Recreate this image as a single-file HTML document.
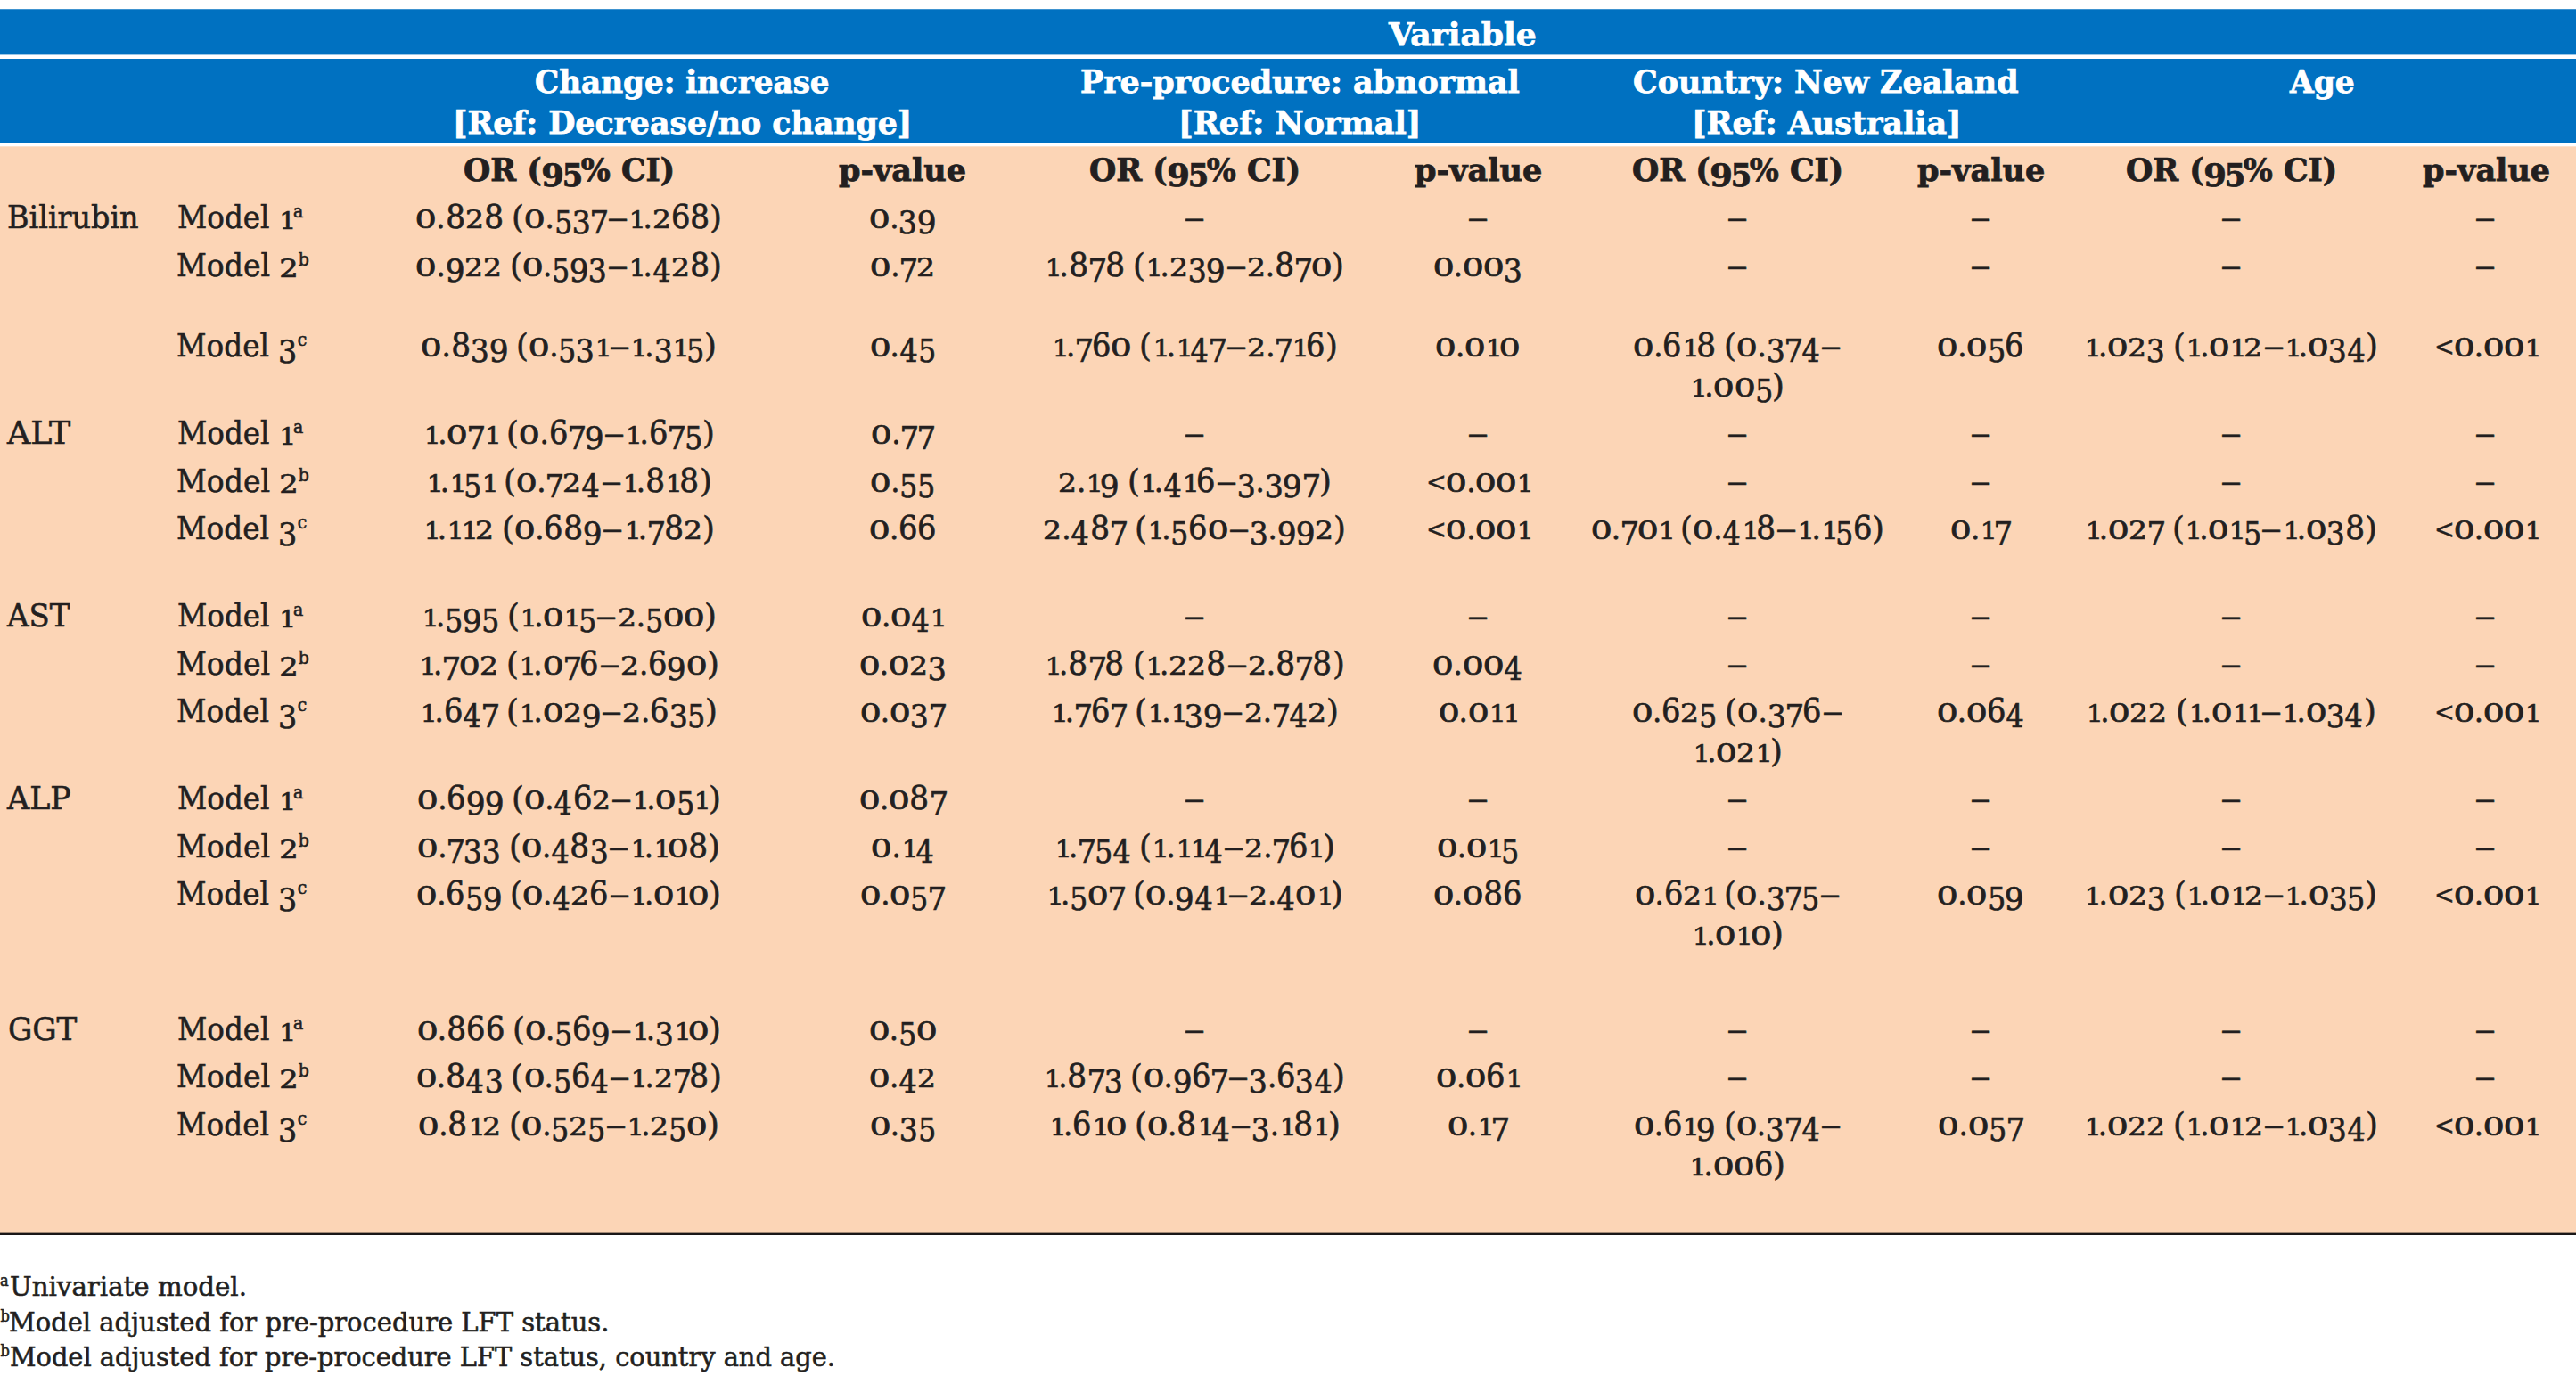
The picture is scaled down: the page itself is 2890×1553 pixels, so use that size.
<!DOCTYPE html>
<html lang="en"><head><meta charset="utf-8"><title>Table</title>
<style>
html,body{margin:0;padding:0;background:#fff;}
body{width:2890px;height:1553px;overflow:hidden;position:relative;font-family:"DejaVu Serif Condensed", "Liberation Serif", "DejaVu Serif", serif;color:#231f20;}
.band{position:absolute;left:0;width:2890px;}
.t{position:absolute;white-space:nowrap;line-height:1;margin:0;padding:0;font-weight:400;transform-origin:0 0;-webkit-text-stroke:0.55px currentColor;}
.b{font-weight:700;-webkit-text-stroke:0.75px currentColor;}
.n{transform:scaleX(1.46);transform-origin:50% 50%;}
.g{display:inline-block;position:relative;top:1px;text-align:center;letter-spacing:0;transform-origin:50% 31px;}
.g0{width:0.6413em;transform:scale(1.18,0.763);-webkit-text-stroke-width:0.8px;}
.g1{width:0.4481em;transform:scale(0.92,0.737);-webkit-text-stroke-width:0.8px;}
.g2{width:0.5838em;transform:scale(1.02,0.77);-webkit-text-stroke-width:0.8px;}
.g3{width:0.5765em;transform:translateY(0.178em) scaleX(1.02);-webkit-text-stroke-width:0.65px;}
.g4{width:0.5901em;transform:translateY(0.178em) scaleX(0.98);-webkit-text-stroke-width:0.65px;}
.g5{width:0.5515em;transform:translateY(0.178em) scaleX(0.97);-webkit-text-stroke-width:0.65px;}
.g6{width:0.5912em;transform:scale(1.04,1.01);-webkit-text-stroke-width:0.65px;}
.g7{width:0.5243em;transform:translateY(0.178em) scaleX(1.05);-webkit-text-stroke-width:0.65px;}
.g8{width:0.6225em;transform:scale(1.06,1.01);-webkit-text-stroke-width:0.65px;}
.g9{width:0.5912em;transform:translateY(0.178em) scaleX(1.06);-webkit-text-stroke-width:0.65px;}
.b .g3{transform:translateY(0.145em) scaleX(1.02);-webkit-text-stroke-width:0.75px;}
.b .g4{transform:translateY(0.145em) scaleX(0.98);-webkit-text-stroke-width:0.75px;}
.b .g5{transform:translateY(0.145em) scaleX(0.97);-webkit-text-stroke-width:0.75px;}
.b .g7{transform:translateY(0.145em) scaleX(1.05);-webkit-text-stroke-width:0.75px;}
.b .g9{transform:translateY(0.145em) scaleX(1.06);-webkit-text-stroke-width:0.75px;}
.gp{width:0.2820em;}
.gl,.gr{width:0.3917em;transform:scaleX(1.1);}
.gt{width:0.6716em;transform:scale(0.84);transform-origin:50% 62%;}
.ge{width:0.6716em;transform:scaleX(1.46);}
.q{word-spacing:-0.0345em;}
</style></head><body>
<div class="band" style="top:10.2px;height:51.2px;background:#0071c1"></div>
<div class="band" style="top:66.1px;height:93.8px;background:#0071c1"></div>
<div class="band" style="top:164.3px;height:1219.4px;background:#fcd5b6"></div>
<div class="band" style="top:1383.6px;height:2.4px;background:#1a1617"></div>
<div class="band" style="top:10px;height:1px;background:#4094d0"></div>
<div class="band" style="top:61px;height:1px;background:#99c6e6"></div>
<div class="band" style="top:164px;height:1px;background:#fde2cc"></div>
<div class="band" style="top:1383px;height:1px;background:#a28976"></div>

<span class="t b" style="left:1558.18px;top:20px;font-size:36px;color:#ffffff;transform:scaleX(1.1144);">Variable</span>
<span class="t b" style="left:600.43px;top:73px;font-size:36px;color:#ffffff;transform:scaleX(1.0548);">Change: increase</span>
<span class="t b" style="left:508.26px;top:119px;font-size:36px;color:#ffffff;transform:scaleX(1.0722);">[Ref: Decrease/no change]</span>
<span class="t b" style="left:1212.02px;top:73px;font-size:36px;color:#ffffff;transform:scaleX(1.0769);">Pre-procedure: abnormal</span>
<span class="t b" style="left:1321.58px;top:119px;font-size:36px;color:#ffffff;transform:scaleX(1.0847);">[Ref: Normal]</span>
<span class="t b" style="left:1832.31px;top:73px;font-size:36px;color:#ffffff;transform:scaleX(1.0741);">Country: New Zealand</span>
<span class="t b" style="left:1897.67px;top:119px;font-size:36px;color:#ffffff;transform:scaleX(1.0773);">[Ref: Australia]</span>
<span class="t b" style="left:2569.39px;top:73px;font-size:36px;color:#ffffff;transform:scaleX(1.0648);">Age</span>
<span class="t b" style="left:520.35px;top:172px;font-size:36px;transform:scaleX(1.0728);">OR (<span class="g g9">9</span><span class="g g5">5</span>% CI)</span>
<span class="t b" style="left:1222.35px;top:172px;font-size:36px;transform:scaleX(1.0728);">OR (<span class="g g9">9</span><span class="g g5">5</span>% CI)</span>
<span class="t b" style="left:1831.35px;top:172px;font-size:36px;transform:scaleX(1.0728);">OR (<span class="g g9">9</span><span class="g g5">5</span>% CI)</span>
<span class="t b" style="left:2385.08px;top:172px;font-size:36px;transform:scaleX(1.0729);">OR (<span class="g g9">9</span><span class="g g5">5</span>% CI)</span>
<span class="t b" style="left:941.49px;top:172px;font-size:36px;transform:scaleX(1.0811);">p-value</span>
<span class="t b" style="left:1586.54px;top:172px;font-size:36px;transform:scaleX(1.0822);">p-value</span>
<span class="t b" style="left:2151.02px;top:172px;font-size:36px;transform:scaleX(1.0822);">p-value</span>
<span class="t b" style="left:2717.66px;top:172px;font-size:36px;transform:scaleX(1.0814);">p-value</span>
<span class="t" style="left:8.46px;top:226px;font-size:36px;transform:scaleX(1.0310);">Bilirubin</span>
<span class="t" style="left:8.22px;top:468px;font-size:36px;transform:scaleX(1.1201);">ALT</span>
<span class="t" style="left:8.11px;top:673px;font-size:36px;transform:scaleX(1.0461);">AST</span>
<span class="t" style="left:8.14px;top:878px;font-size:36px;transform:scaleX(1.0749);">ALP</span>
<span class="t" style="left:8.57px;top:1137px;font-size:36px;transform:scaleX(1.0553);">GGT</span>
<span class="t" style="left:198.51px;top:226px;font-size:36px;transform:scaleX(1.0044);">Model <span class="g g1">1</span></span>
<span class="t" style="left:328.91px;top:227px;font-size:21px;">a</span>
<span class="t" style="left:198.46px;top:280px;font-size:36px;transform:scaleX(1.0203);">Model <span class="g g2">2</span></span>
<span class="t" style="left:334.84px;top:281px;font-size:21px;">b</span>
<span class="t" style="left:198.49px;top:370px;font-size:36px;transform:scaleX(1.0102);">Model <span class="g g3">3</span></span>
<span class="t" style="left:333.84px;top:371px;font-size:21px;">c</span>
<span class="t" style="left:198.51px;top:468px;font-size:36px;transform:scaleX(1.0044);">Model <span class="g g1">1</span></span>
<span class="t" style="left:328.91px;top:469px;font-size:21px;">a</span>
<span class="t" style="left:198.46px;top:522px;font-size:36px;transform:scaleX(1.0203);">Model <span class="g g2">2</span></span>
<span class="t" style="left:334.84px;top:523px;font-size:21px;">b</span>
<span class="t" style="left:198.49px;top:575px;font-size:36px;transform:scaleX(1.0102);">Model <span class="g g3">3</span></span>
<span class="t" style="left:333.84px;top:576px;font-size:21px;">c</span>
<span class="t" style="left:198.51px;top:673px;font-size:36px;transform:scaleX(1.0044);">Model <span class="g g1">1</span></span>
<span class="t" style="left:328.91px;top:674px;font-size:21px;">a</span>
<span class="t" style="left:198.46px;top:727px;font-size:36px;transform:scaleX(1.0203);">Model <span class="g g2">2</span></span>
<span class="t" style="left:334.84px;top:728px;font-size:21px;">b</span>
<span class="t" style="left:198.49px;top:780px;font-size:36px;transform:scaleX(1.0102);">Model <span class="g g3">3</span></span>
<span class="t" style="left:333.84px;top:781px;font-size:21px;">c</span>
<span class="t" style="left:198.51px;top:878px;font-size:36px;transform:scaleX(1.0044);">Model <span class="g g1">1</span></span>
<span class="t" style="left:328.91px;top:879px;font-size:21px;">a</span>
<span class="t" style="left:198.46px;top:932px;font-size:36px;transform:scaleX(1.0203);">Model <span class="g g2">2</span></span>
<span class="t" style="left:334.84px;top:933px;font-size:21px;">b</span>
<span class="t" style="left:198.49px;top:985px;font-size:36px;transform:scaleX(1.0102);">Model <span class="g g3">3</span></span>
<span class="t" style="left:333.84px;top:986px;font-size:21px;">c</span>
<span class="t" style="left:198.51px;top:1137px;font-size:36px;transform:scaleX(1.0044);">Model <span class="g g1">1</span></span>
<span class="t" style="left:328.91px;top:1138px;font-size:21px;">a</span>
<span class="t" style="left:198.46px;top:1190px;font-size:36px;transform:scaleX(1.0203);">Model <span class="g g2">2</span></span>
<span class="t" style="left:334.84px;top:1191px;font-size:21px;">b</span>
<span class="t" style="left:198.49px;top:1244px;font-size:36px;transform:scaleX(1.0102);">Model <span class="g g3">3</span></span>
<span class="t" style="left:333.84px;top:1245px;font-size:21px;">c</span>
<span class="t q" style="left:466.29px;top:225px;font-size:36px;"><span class="g g0">0</span><span class="g gp">.</span><span class="g g8">8</span><span class="g g2">2</span><span class="g g8">8</span> <span class="g gl">(</span><span class="g g0">0</span><span class="g gp">.</span><span class="g g5">5</span><span class="g g3">3</span><span class="g g7">7</span><span class="g ge">–</span><span class="g g1">1</span><span class="g gp">.</span><span class="g g2">2</span><span class="g g6">6</span><span class="g g8">8</span><span class="g gr">)</span></span>
<span class="t q" style="left:975.06px;top:225px;font-size:36px;"><span class="g g0">0</span><span class="g gp">.</span><span class="g g3">3</span><span class="g g9">9</span></span>
<span class="t n" style="left:1332.15px;top:226px;font-size:36px;">–</span>
<span class="t n" style="left:1649.75px;top:226px;font-size:36px;">–</span>
<span class="t n" style="left:1941.15px;top:226px;font-size:36px;">–</span>
<span class="t n" style="left:2213.55px;top:226px;font-size:36px;">–</span>
<span class="t n" style="left:2494.55px;top:226px;font-size:36px;">–</span>
<span class="t n" style="left:2780.35px;top:226px;font-size:36px;">–</span>
<span class="t q" style="left:466.36px;top:279px;font-size:36px;"><span class="g g0">0</span><span class="g gp">.</span><span class="g g9">9</span><span class="g g2">2</span><span class="g g2">2</span> <span class="g gl">(</span><span class="g g0">0</span><span class="g gp">.</span><span class="g g5">5</span><span class="g g9">9</span><span class="g g3">3</span><span class="g ge">–</span><span class="g g1">1</span><span class="g gp">.</span><span class="g g4">4</span><span class="g g2">2</span><span class="g g8">8</span><span class="g gr">)</span></span>
<span class="t q" style="left:976.13px;top:279px;font-size:36px;"><span class="g g0">0</span><span class="g gp">.</span><span class="g g7">7</span><span class="g g2">2</span></span>
<span class="t q" style="left:1172.25px;top:279px;font-size:36px;"><span class="g g1">1</span><span class="g gp">.</span><span class="g g8">8</span><span class="g g7">7</span><span class="g g8">8</span> <span class="g gl">(</span><span class="g g1">1</span><span class="g gp">.</span><span class="g g2">2</span><span class="g g3">3</span><span class="g g9">9</span><span class="g ge">–</span><span class="g g2">2</span><span class="g gp">.</span><span class="g g8">8</span><span class="g g7">7</span><span class="g g0">0</span><span class="g gr">)</span></span>
<span class="t q" style="left:1607.72px;top:279px;font-size:36px;"><span class="g g0">0</span><span class="g gp">.</span><span class="g g0">0</span><span class="g g0">0</span><span class="g g3">3</span></span>
<span class="t n" style="left:1941.15px;top:280px;font-size:36px;">–</span>
<span class="t n" style="left:2213.55px;top:280px;font-size:36px;">–</span>
<span class="t n" style="left:2494.55px;top:280px;font-size:36px;">–</span>
<span class="t n" style="left:2780.35px;top:280px;font-size:36px;">–</span>
<span class="t q" style="left:472.34px;top:369px;font-size:36px;"><span class="g g0">0</span><span class="g gp">.</span><span class="g g8">8</span><span class="g g3">3</span><span class="g g9">9</span> <span class="g gl">(</span><span class="g g0">0</span><span class="g gp">.</span><span class="g g5">5</span><span class="g g3">3</span><span class="g g1">1</span><span class="g ge">–</span><span class="g g1">1</span><span class="g gp">.</span><span class="g g3">3</span><span class="g g1">1</span><span class="g g5">5</span><span class="g gr">)</span></span>
<span class="t q" style="left:975.53px;top:369px;font-size:36px;"><span class="g g0">0</span><span class="g gp">.</span><span class="g g4">4</span><span class="g g5">5</span></span>
<span class="t q" style="left:1179.92px;top:369px;font-size:36px;"><span class="g g1">1</span><span class="g gp">.</span><span class="g g7">7</span><span class="g g6">6</span><span class="g g0">0</span> <span class="g gl">(</span><span class="g g1">1</span><span class="g gp">.</span><span class="g g1">1</span><span class="g g4">4</span><span class="g g7">7</span><span class="g ge">–</span><span class="g g2">2</span><span class="g gp">.</span><span class="g g7">7</span><span class="g g1">1</span><span class="g g6">6</span><span class="g gr">)</span></span>
<span class="t q" style="left:1610.03px;top:369px;font-size:36px;"><span class="g g0">0</span><span class="g gp">.</span><span class="g g0">0</span><span class="g g1">1</span><span class="g g0">0</span></span>
<span class="t q" style="left:1832.14px;top:369px;font-size:36px;"><span class="g g0">0</span><span class="g gp">.</span><span class="g g6">6</span><span class="g g1">1</span><span class="g g8">8</span> <span class="g gl">(</span><span class="g g0">0</span><span class="g gp">.</span><span class="g g3">3</span><span class="g g7">7</span><span class="g g4">4</span><span class="g ge">–</span></span>
<span class="t q" style="left:1896.20px;top:414px;font-size:36px;"><span class="g g1">1</span><span class="g gp">.</span><span class="g g0">0</span><span class="g g0">0</span><span class="g g5">5</span><span class="g gr">)</span></span>
<span class="t q" style="left:2173.27px;top:369px;font-size:36px;"><span class="g g0">0</span><span class="g gp">.</span><span class="g g0">0</span><span class="g g5">5</span><span class="g g6">6</span></span>
<span class="t q" style="left:2337.77px;top:369px;font-size:36px;"><span class="g g1">1</span><span class="g gp">.</span><span class="g g0">0</span><span class="g g2">2</span><span class="g g3">3</span> <span class="g gl">(</span><span class="g g1">1</span><span class="g gp">.</span><span class="g g0">0</span><span class="g g1">1</span><span class="g g2">2</span><span class="g ge">–</span><span class="g g1">1</span><span class="g gp">.</span><span class="g g0">0</span><span class="g g3">3</span><span class="g g4">4</span><span class="g gr">)</span></span>
<span class="t q" style="left:2728.59px;top:369px;font-size:36px;"><span class="g gt">&lt;</span><span class="g g0">0</span><span class="g gp">.</span><span class="g g0">0</span><span class="g g0">0</span><span class="g g1">1</span></span>
<span class="t q" style="left:475.01px;top:467px;font-size:36px;"><span class="g g1">1</span><span class="g gp">.</span><span class="g g0">0</span><span class="g g7">7</span><span class="g g1">1</span> <span class="g gl">(</span><span class="g g0">0</span><span class="g gp">.</span><span class="g g6">6</span><span class="g g7">7</span><span class="g g9">9</span><span class="g ge">–</span><span class="g g1">1</span><span class="g gp">.</span><span class="g g6">6</span><span class="g g7">7</span><span class="g g5">5</span><span class="g gr">)</span></span>
<span class="t q" style="left:977.21px;top:467px;font-size:36px;"><span class="g g0">0</span><span class="g gp">.</span><span class="g g7">7</span><span class="g g7">7</span></span>
<span class="t n" style="left:1332.15px;top:468px;font-size:36px;">–</span>
<span class="t n" style="left:1649.75px;top:468px;font-size:36px;">–</span>
<span class="t n" style="left:1941.15px;top:468px;font-size:36px;">–</span>
<span class="t n" style="left:2213.55px;top:468px;font-size:36px;">–</span>
<span class="t n" style="left:2494.55px;top:468px;font-size:36px;">–</span>
<span class="t n" style="left:2780.35px;top:468px;font-size:36px;">–</span>
<span class="t q" style="left:477.68px;top:521px;font-size:36px;"><span class="g g1">1</span><span class="g gp">.</span><span class="g g1">1</span><span class="g g5">5</span><span class="g g1">1</span> <span class="g gl">(</span><span class="g g0">0</span><span class="g gp">.</span><span class="g g7">7</span><span class="g g2">2</span><span class="g g4">4</span><span class="g ge">–</span><span class="g g1">1</span><span class="g gp">.</span><span class="g g8">8</span><span class="g g1">1</span><span class="g g8">8</span><span class="g gr">)</span></span>
<span class="t q" style="left:976.23px;top:521px;font-size:36px;"><span class="g g0">0</span><span class="g gp">.</span><span class="g g5">5</span><span class="g g5">5</span></span>
<span class="t q" style="left:1187.01px;top:521px;font-size:36px;"><span class="g g2">2</span><span class="g gp">.</span><span class="g g1">1</span><span class="g g9">9</span> <span class="g gl">(</span><span class="g g1">1</span><span class="g gp">.</span><span class="g g4">4</span><span class="g g1">1</span><span class="g g6">6</span><span class="g ge">–</span><span class="g g3">3</span><span class="g gp">.</span><span class="g g3">3</span><span class="g g9">9</span><span class="g g7">7</span><span class="g gr">)</span></span>
<span class="t q" style="left:1597.94px;top:521px;font-size:36px;"><span class="g gt">&lt;</span><span class="g g0">0</span><span class="g gp">.</span><span class="g g0">0</span><span class="g g0">0</span><span class="g g1">1</span></span>
<span class="t n" style="left:1941.15px;top:522px;font-size:36px;">–</span>
<span class="t n" style="left:2213.55px;top:522px;font-size:36px;">–</span>
<span class="t n" style="left:2494.55px;top:522px;font-size:36px;">–</span>
<span class="t n" style="left:2780.35px;top:522px;font-size:36px;">–</span>
<span class="t q" style="left:474.50px;top:574px;font-size:36px;"><span class="g g1">1</span><span class="g gp">.</span><span class="g g1">1</span><span class="g g1">1</span><span class="g g2">2</span> <span class="g gl">(</span><span class="g g0">0</span><span class="g gp">.</span><span class="g g6">6</span><span class="g g8">8</span><span class="g g9">9</span><span class="g ge">–</span><span class="g g1">1</span><span class="g gp">.</span><span class="g g7">7</span><span class="g g8">8</span><span class="g g2">2</span><span class="g gr">)</span></span>
<span class="t q" style="left:974.80px;top:574px;font-size:36px;"><span class="g g0">0</span><span class="g gp">.</span><span class="g g6">6</span><span class="g g6">6</span></span>
<span class="t q" style="left:1170.34px;top:574px;font-size:36px;"><span class="g g2">2</span><span class="g gp">.</span><span class="g g4">4</span><span class="g g8">8</span><span class="g g7">7</span> <span class="g gl">(</span><span class="g g1">1</span><span class="g gp">.</span><span class="g g5">5</span><span class="g g6">6</span><span class="g g0">0</span><span class="g ge">–</span><span class="g g3">3</span><span class="g gp">.</span><span class="g g9">9</span><span class="g g9">9</span><span class="g g2">2</span><span class="g gr">)</span></span>
<span class="t q" style="left:1597.94px;top:574px;font-size:36px;"><span class="g gt">&lt;</span><span class="g g0">0</span><span class="g gp">.</span><span class="g g0">0</span><span class="g g0">0</span><span class="g g1">1</span></span>
<span class="t q" style="left:1784.73px;top:574px;font-size:36px;"><span class="g g0">0</span><span class="g gp">.</span><span class="g g7">7</span><span class="g g0">0</span><span class="g g1">1</span> <span class="g gl">(</span><span class="g g0">0</span><span class="g gp">.</span><span class="g g4">4</span><span class="g g1">1</span><span class="g g8">8</span><span class="g ge">–</span><span class="g g1">1</span><span class="g gp">.</span><span class="g g1">1</span><span class="g g5">5</span><span class="g g6">6</span><span class="g gr">)</span></span>
<span class="t q" style="left:2187.88px;top:574px;font-size:36px;"><span class="g g0">0</span><span class="g gp">.</span><span class="g g1">1</span><span class="g g7">7</span></span>
<span class="t q" style="left:2338.71px;top:574px;font-size:36px;"><span class="g g1">1</span><span class="g gp">.</span><span class="g g0">0</span><span class="g g2">2</span><span class="g g7">7</span> <span class="g gl">(</span><span class="g g1">1</span><span class="g gp">.</span><span class="g g0">0</span><span class="g g1">1</span><span class="g g5">5</span><span class="g ge">–</span><span class="g g1">1</span><span class="g gp">.</span><span class="g g0">0</span><span class="g g3">3</span><span class="g g8">8</span><span class="g gr">)</span></span>
<span class="t q" style="left:2728.59px;top:574px;font-size:36px;"><span class="g gt">&lt;</span><span class="g g0">0</span><span class="g gp">.</span><span class="g g0">0</span><span class="g g0">0</span><span class="g g1">1</span></span>
<span class="t q" style="left:472.77px;top:672px;font-size:36px;"><span class="g g1">1</span><span class="g gp">.</span><span class="g g5">5</span><span class="g g9">9</span><span class="g g5">5</span> <span class="g gl">(</span><span class="g g1">1</span><span class="g gp">.</span><span class="g g0">0</span><span class="g g1">1</span><span class="g g5">5</span><span class="g ge">–</span><span class="g g2">2</span><span class="g gp">.</span><span class="g g5">5</span><span class="g g0">0</span><span class="g g0">0</span><span class="g gr">)</span></span>
<span class="t q" style="left:965.85px;top:672px;font-size:36px;"><span class="g g0">0</span><span class="g gp">.</span><span class="g g0">0</span><span class="g g4">4</span><span class="g g1">1</span></span>
<span class="t n" style="left:1332.15px;top:673px;font-size:36px;">–</span>
<span class="t n" style="left:1649.75px;top:673px;font-size:36px;">–</span>
<span class="t n" style="left:1941.15px;top:673px;font-size:36px;">–</span>
<span class="t n" style="left:2213.55px;top:673px;font-size:36px;">–</span>
<span class="t n" style="left:2494.55px;top:673px;font-size:36px;">–</span>
<span class="t n" style="left:2780.35px;top:673px;font-size:36px;">–</span>
<span class="t q" style="left:469.88px;top:726px;font-size:36px;"><span class="g g1">1</span><span class="g gp">.</span><span class="g g7">7</span><span class="g g0">0</span><span class="g g2">2</span> <span class="g gl">(</span><span class="g g1">1</span><span class="g gp">.</span><span class="g g0">0</span><span class="g g7">7</span><span class="g g6">6</span><span class="g ge">–</span><span class="g g2">2</span><span class="g gp">.</span><span class="g g6">6</span><span class="g g9">9</span><span class="g g0">0</span><span class="g gr">)</span></span>
<span class="t q" style="left:963.65px;top:726px;font-size:36px;"><span class="g g0">0</span><span class="g gp">.</span><span class="g g0">0</span><span class="g g2">2</span><span class="g g3">3</span></span>
<span class="t q" style="left:1171.90px;top:726px;font-size:36px;"><span class="g g1">1</span><span class="g gp">.</span><span class="g g8">8</span><span class="g g7">7</span><span class="g g8">8</span> <span class="g gl">(</span><span class="g g1">1</span><span class="g gp">.</span><span class="g g2">2</span><span class="g g2">2</span><span class="g g8">8</span><span class="g ge">–</span><span class="g g2">2</span><span class="g gp">.</span><span class="g g8">8</span><span class="g g7">7</span><span class="g g8">8</span><span class="g gr">)</span></span>
<span class="t q" style="left:1607.47px;top:726px;font-size:36px;"><span class="g g0">0</span><span class="g gp">.</span><span class="g g0">0</span><span class="g g0">0</span><span class="g g4">4</span></span>
<span class="t n" style="left:1941.15px;top:727px;font-size:36px;">–</span>
<span class="t n" style="left:2213.55px;top:727px;font-size:36px;">–</span>
<span class="t n" style="left:2494.55px;top:727px;font-size:36px;">–</span>
<span class="t n" style="left:2780.35px;top:727px;font-size:36px;">–</span>
<span class="t q" style="left:471.47px;top:779px;font-size:36px;"><span class="g g1">1</span><span class="g gp">.</span><span class="g g6">6</span><span class="g g4">4</span><span class="g g7">7</span> <span class="g gl">(</span><span class="g g1">1</span><span class="g gp">.</span><span class="g g0">0</span><span class="g g2">2</span><span class="g g9">9</span><span class="g ge">–</span><span class="g g2">2</span><span class="g gp">.</span><span class="g g6">6</span><span class="g g3">3</span><span class="g g5">5</span><span class="g gr">)</span></span>
<span class="t q" style="left:964.72px;top:779px;font-size:36px;"><span class="g g0">0</span><span class="g gp">.</span><span class="g g0">0</span><span class="g g3">3</span><span class="g g7">7</span></span>
<span class="t q" style="left:1178.64px;top:779px;font-size:36px;"><span class="g g1">1</span><span class="g gp">.</span><span class="g g7">7</span><span class="g g6">6</span><span class="g g7">7</span> <span class="g gl">(</span><span class="g g1">1</span><span class="g gp">.</span><span class="g g1">1</span><span class="g g3">3</span><span class="g g9">9</span><span class="g ge">–</span><span class="g g2">2</span><span class="g gp">.</span><span class="g g7">7</span><span class="g g4">4</span><span class="g g2">2</span><span class="g gr">)</span></span>
<span class="t q" style="left:1613.51px;top:779px;font-size:36px;"><span class="g g0">0</span><span class="g gp">.</span><span class="g g0">0</span><span class="g g1">1</span><span class="g g1">1</span></span>
<span class="t q" style="left:1830.96px;top:779px;font-size:36px;"><span class="g g0">0</span><span class="g gp">.</span><span class="g g6">6</span><span class="g g2">2</span><span class="g g5">5</span> <span class="g gl">(</span><span class="g g0">0</span><span class="g gp">.</span><span class="g g3">3</span><span class="g g7">7</span><span class="g g6">6</span><span class="g ge">–</span></span>
<span class="t q" style="left:1899.09px;top:824px;font-size:36px;"><span class="g g1">1</span><span class="g gp">.</span><span class="g g0">0</span><span class="g g2">2</span><span class="g g1">1</span><span class="g gr">)</span></span>
<span class="t q" style="left:2172.57px;top:779px;font-size:36px;"><span class="g g0">0</span><span class="g gp">.</span><span class="g g0">0</span><span class="g g6">6</span><span class="g g4">4</span></span>
<span class="t q" style="left:2340.08px;top:779px;font-size:36px;"><span class="g g1">1</span><span class="g gp">.</span><span class="g g0">0</span><span class="g g2">2</span><span class="g g2">2</span> <span class="g gl">(</span><span class="g g1">1</span><span class="g gp">.</span><span class="g g0">0</span><span class="g g1">1</span><span class="g g1">1</span><span class="g ge">–</span><span class="g g1">1</span><span class="g gp">.</span><span class="g g0">0</span><span class="g g3">3</span><span class="g g4">4</span><span class="g gr">)</span></span>
<span class="t q" style="left:2728.59px;top:779px;font-size:36px;"><span class="g gt">&lt;</span><span class="g g0">0</span><span class="g gp">.</span><span class="g g0">0</span><span class="g g0">0</span><span class="g g1">1</span></span>
<span class="t q" style="left:468.07px;top:877px;font-size:36px;"><span class="g g0">0</span><span class="g gp">.</span><span class="g g6">6</span><span class="g g9">9</span><span class="g g9">9</span> <span class="g gl">(</span><span class="g g0">0</span><span class="g gp">.</span><span class="g g4">4</span><span class="g g6">6</span><span class="g g2">2</span><span class="g ge">–</span><span class="g g1">1</span><span class="g gp">.</span><span class="g g0">0</span><span class="g g5">5</span><span class="g g1">1</span><span class="g gr">)</span></span>
<span class="t q" style="left:963.90px;top:877px;font-size:36px;"><span class="g g0">0</span><span class="g gp">.</span><span class="g g0">0</span><span class="g g8">8</span><span class="g g7">7</span></span>
<span class="t n" style="left:1332.15px;top:878px;font-size:36px;">–</span>
<span class="t n" style="left:1649.75px;top:878px;font-size:36px;">–</span>
<span class="t n" style="left:1941.15px;top:878px;font-size:36px;">–</span>
<span class="t n" style="left:2213.55px;top:878px;font-size:36px;">–</span>
<span class="t n" style="left:2494.55px;top:878px;font-size:36px;">–</span>
<span class="t n" style="left:2780.35px;top:878px;font-size:36px;">–</span>
<span class="t q" style="left:468.09px;top:931px;font-size:36px;"><span class="g g0">0</span><span class="g gp">.</span><span class="g g7">7</span><span class="g g3">3</span><span class="g g3">3</span> <span class="g gl">(</span><span class="g g0">0</span><span class="g gp">.</span><span class="g g4">4</span><span class="g g8">8</span><span class="g g3">3</span><span class="g ge">–</span><span class="g g1">1</span><span class="g gp">.</span><span class="g g1">1</span><span class="g g0">0</span><span class="g g8">8</span><span class="g gr">)</span></span>
<span class="t q" style="left:977.39px;top:931px;font-size:36px;"><span class="g g0">0</span><span class="g gp">.</span><span class="g g1">1</span><span class="g g4">4</span></span>
<span class="t q" style="left:1182.93px;top:931px;font-size:36px;"><span class="g g1">1</span><span class="g gp">.</span><span class="g g7">7</span><span class="g g5">5</span><span class="g g4">4</span> <span class="g gl">(</span><span class="g g1">1</span><span class="g gp">.</span><span class="g g1">1</span><span class="g g1">1</span><span class="g g4">4</span><span class="g ge">–</span><span class="g g2">2</span><span class="g gp">.</span><span class="g g7">7</span><span class="g g6">6</span><span class="g g1">1</span><span class="g gr">)</span></span>
<span class="t q" style="left:1611.65px;top:931px;font-size:36px;"><span class="g g0">0</span><span class="g gp">.</span><span class="g g0">0</span><span class="g g1">1</span><span class="g g5">5</span></span>
<span class="t n" style="left:1941.15px;top:932px;font-size:36px;">–</span>
<span class="t n" style="left:2213.55px;top:932px;font-size:36px;">–</span>
<span class="t n" style="left:2494.55px;top:932px;font-size:36px;">–</span>
<span class="t n" style="left:2780.35px;top:932px;font-size:36px;">–</span>
<span class="t q" style="left:467.17px;top:984px;font-size:36px;"><span class="g g0">0</span><span class="g gp">.</span><span class="g g6">6</span><span class="g g5">5</span><span class="g g9">9</span> <span class="g gl">(</span><span class="g g0">0</span><span class="g gp">.</span><span class="g g4">4</span><span class="g g2">2</span><span class="g g6">6</span><span class="g ge">–</span><span class="g g1">1</span><span class="g gp">.</span><span class="g g0">0</span><span class="g g1">1</span><span class="g g0">0</span><span class="g gr">)</span></span>
<span class="t q" style="left:965.17px;top:984px;font-size:36px;"><span class="g g0">0</span><span class="g gp">.</span><span class="g g0">0</span><span class="g g5">5</span><span class="g g7">7</span></span>
<span class="t q" style="left:1173.87px;top:984px;font-size:36px;"><span class="g g1">1</span><span class="g gp">.</span><span class="g g5">5</span><span class="g g0">0</span><span class="g g7">7</span> <span class="g gl">(</span><span class="g g0">0</span><span class="g gp">.</span><span class="g g9">9</span><span class="g g4">4</span><span class="g g1">1</span><span class="g ge">–</span><span class="g g2">2</span><span class="g gp">.</span><span class="g g4">4</span><span class="g g0">0</span><span class="g g1">1</span><span class="g gr">)</span></span>
<span class="t q" style="left:1607.79px;top:984px;font-size:36px;"><span class="g g0">0</span><span class="g gp">.</span><span class="g g0">0</span><span class="g g8">8</span><span class="g g6">6</span></span>
<span class="t q" style="left:1833.54px;top:984px;font-size:36px;"><span class="g g0">0</span><span class="g gp">.</span><span class="g g6">6</span><span class="g g2">2</span><span class="g g1">1</span> <span class="g gl">(</span><span class="g g0">0</span><span class="g gp">.</span><span class="g g3">3</span><span class="g g7">7</span><span class="g g5">5</span><span class="g ge">–</span></span>
<span class="t q" style="left:1898.06px;top:1029px;font-size:36px;"><span class="g g1">1</span><span class="g gp">.</span><span class="g g0">0</span><span class="g g1">1</span><span class="g g0">0</span><span class="g gr">)</span></span>
<span class="t q" style="left:2173.27px;top:984px;font-size:36px;"><span class="g g0">0</span><span class="g gp">.</span><span class="g g0">0</span><span class="g g5">5</span><span class="g g9">9</span></span>
<span class="t q" style="left:2338.46px;top:984px;font-size:36px;"><span class="g g1">1</span><span class="g gp">.</span><span class="g g0">0</span><span class="g g2">2</span><span class="g g3">3</span> <span class="g gl">(</span><span class="g g1">1</span><span class="g gp">.</span><span class="g g0">0</span><span class="g g1">1</span><span class="g g2">2</span><span class="g ge">–</span><span class="g g1">1</span><span class="g gp">.</span><span class="g g0">0</span><span class="g g3">3</span><span class="g g5">5</span><span class="g gr">)</span></span>
<span class="t q" style="left:2728.59px;top:984px;font-size:36px;"><span class="g gt">&lt;</span><span class="g g0">0</span><span class="g gp">.</span><span class="g g0">0</span><span class="g g0">0</span><span class="g g1">1</span></span>
<span class="t q" style="left:467.62px;top:1136px;font-size:36px;"><span class="g g0">0</span><span class="g gp">.</span><span class="g g8">8</span><span class="g g6">6</span><span class="g g6">6</span> <span class="g gl">(</span><span class="g g0">0</span><span class="g gp">.</span><span class="g g5">5</span><span class="g g6">6</span><span class="g g9">9</span><span class="g ge">–</span><span class="g g1">1</span><span class="g gp">.</span><span class="g g3">3</span><span class="g g1">1</span><span class="g g0">0</span><span class="g gr">)</span></span>
<span class="t q" style="left:974.61px;top:1136px;font-size:36px;"><span class="g g0">0</span><span class="g gp">.</span><span class="g g5">5</span><span class="g g0">0</span></span>
<span class="t n" style="left:1332.15px;top:1137px;font-size:36px;">–</span>
<span class="t n" style="left:1649.75px;top:1137px;font-size:36px;">–</span>
<span class="t n" style="left:1941.15px;top:1137px;font-size:36px;">–</span>
<span class="t n" style="left:2213.55px;top:1137px;font-size:36px;">–</span>
<span class="t n" style="left:2494.55px;top:1137px;font-size:36px;">–</span>
<span class="t n" style="left:2780.35px;top:1137px;font-size:36px;">–</span>
<span class="t q" style="left:466.76px;top:1189px;font-size:36px;"><span class="g g0">0</span><span class="g gp">.</span><span class="g g8">8</span><span class="g g4">4</span><span class="g g3">3</span> <span class="g gl">(</span><span class="g g0">0</span><span class="g gp">.</span><span class="g g5">5</span><span class="g g6">6</span><span class="g g4">4</span><span class="g ge">–</span><span class="g g1">1</span><span class="g gp">.</span><span class="g g2">2</span><span class="g g7">7</span><span class="g g8">8</span><span class="g gr">)</span></span>
<span class="t q" style="left:974.95px;top:1189px;font-size:36px;"><span class="g g0">0</span><span class="g gp">.</span><span class="g g4">4</span><span class="g g2">2</span></span>
<span class="t q" style="left:1171.09px;top:1189px;font-size:36px;"><span class="g g1">1</span><span class="g gp">.</span><span class="g g8">8</span><span class="g g7">7</span><span class="g g3">3</span> <span class="g gl">(</span><span class="g g0">0</span><span class="g gp">.</span><span class="g g9">9</span><span class="g g6">6</span><span class="g g7">7</span><span class="g ge">–</span><span class="g g3">3</span><span class="g gp">.</span><span class="g g6">6</span><span class="g g3">3</span><span class="g g4">4</span><span class="g gr">)</span></span>
<span class="t q" style="left:1610.93px;top:1189px;font-size:36px;"><span class="g g0">0</span><span class="g gp">.</span><span class="g g0">0</span><span class="g g6">6</span><span class="g g1">1</span></span>
<span class="t n" style="left:1941.15px;top:1190px;font-size:36px;">–</span>
<span class="t n" style="left:2213.55px;top:1190px;font-size:36px;">–</span>
<span class="t n" style="left:2494.55px;top:1190px;font-size:36px;">–</span>
<span class="t n" style="left:2780.35px;top:1190px;font-size:36px;">–</span>
<span class="t q" style="left:469.18px;top:1243px;font-size:36px;"><span class="g g0">0</span><span class="g gp">.</span><span class="g g8">8</span><span class="g g1">1</span><span class="g g2">2</span> <span class="g gl">(</span><span class="g g0">0</span><span class="g gp">.</span><span class="g g5">5</span><span class="g g2">2</span><span class="g g5">5</span><span class="g ge">–</span><span class="g g1">1</span><span class="g gp">.</span><span class="g g2">2</span><span class="g g5">5</span><span class="g g0">0</span><span class="g gr">)</span></span>
<span class="t q" style="left:975.78px;top:1243px;font-size:36px;"><span class="g g0">0</span><span class="g gp">.</span><span class="g g3">3</span><span class="g g5">5</span></span>
<span class="t q" style="left:1176.99px;top:1243px;font-size:36px;"><span class="g g1">1</span><span class="g gp">.</span><span class="g g6">6</span><span class="g g1">1</span><span class="g g0">0</span> <span class="g gl">(</span><span class="g g0">0</span><span class="g gp">.</span><span class="g g8">8</span><span class="g g1">1</span><span class="g g4">4</span><span class="g ge">–</span><span class="g g3">3</span><span class="g gp">.</span><span class="g g1">1</span><span class="g g8">8</span><span class="g g1">1</span><span class="g gr">)</span></span>
<span class="t q" style="left:1623.68px;top:1243px;font-size:36px;"><span class="g g0">0</span><span class="g gp">.</span><span class="g g1">1</span><span class="g g7">7</span></span>
<span class="t q" style="left:1832.71px;top:1243px;font-size:36px;"><span class="g g0">0</span><span class="g gp">.</span><span class="g g6">6</span><span class="g g1">1</span><span class="g g9">9</span> <span class="g gl">(</span><span class="g g0">0</span><span class="g gp">.</span><span class="g g3">3</span><span class="g g7">7</span><span class="g g4">4</span><span class="g ge">–</span></span>
<span class="t q" style="left:1895.48px;top:1288px;font-size:36px;"><span class="g g1">1</span><span class="g gp">.</span><span class="g g0">0</span><span class="g g0">0</span><span class="g g6">6</span><span class="g gr">)</span></span>
<span class="t q" style="left:2174.47px;top:1243px;font-size:36px;"><span class="g g0">0</span><span class="g gp">.</span><span class="g g0">0</span><span class="g g5">5</span><span class="g g7">7</span></span>
<span class="t q" style="left:2337.64px;top:1243px;font-size:36px;"><span class="g g1">1</span><span class="g gp">.</span><span class="g g0">0</span><span class="g g2">2</span><span class="g g2">2</span> <span class="g gl">(</span><span class="g g1">1</span><span class="g gp">.</span><span class="g g0">0</span><span class="g g1">1</span><span class="g g2">2</span><span class="g ge">–</span><span class="g g1">1</span><span class="g gp">.</span><span class="g g0">0</span><span class="g g3">3</span><span class="g g4">4</span><span class="g gr">)</span></span>
<span class="t q" style="left:2728.59px;top:1243px;font-size:36px;"><span class="g gt">&lt;</span><span class="g g0">0</span><span class="g gp">.</span><span class="g g0">0</span><span class="g g0">0</span><span class="g g1">1</span></span>
<span class="t" style="left:-0.05px;top:1427.7px;font-size:18px;">a</span>
<span class="t" style="left:10.69px;top:1429px;font-size:30.5px;transform:scaleX(1.0660);">Univariate model.</span>
<span class="t" style="left:0.47px;top:1468px;font-size:18px;">b</span>
<span class="t" style="left:10.48px;top:1469px;font-size:30.5px;transform:scaleX(1.0562);">Model adjusted for pre-procedure LFT status.</span>
<span class="t" style="left:0.47px;top:1507px;font-size:18px;">b</span>
<span class="t" style="left:10.50px;top:1508px;font-size:30.5px;transform:scaleX(1.0509);">Model adjusted for pre-procedure LFT status, country and age.</span>
</body></html>
